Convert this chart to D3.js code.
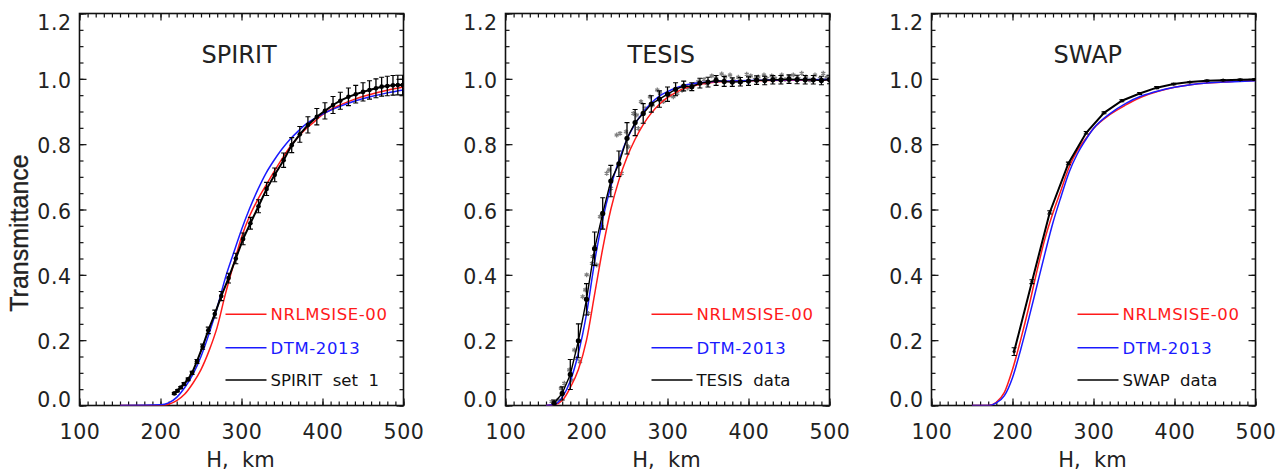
<!DOCTYPE html>
<html><head><meta charset="utf-8">
<script src="https://cdn.jsdelivr.net/npm/d3@7"></script>
<style>
body{margin:0;background:#fff;}
svg{display:block;}
text{font-family:"DejaVu Sans",sans-serif;fill:#222;}
</style></head><body>
<svg id="c" width="1286" height="473"></svg>
<script>
// ---------- data ----------
const panelTitles = ["SPIRIT", "TESIS", "SWAP"];
const dataLabels = ["SPIRIT  set  1", "TESIS  data", "SWAP  data"];
const modelNames = ["NRLMSISE-00", "DTM-2013"];
const xTicks = [100, 200, 300, 400, 500];
const yTicks = [0.0, 0.2, 0.4, 0.6, 0.8, 1.0, 1.2];
const xTitle = "H,  km";
const yTitle = "Transmittance";

// SPIRIT panel
const H_mod1 = [150,200,210,220,230,240,250,260,270,280,290,300,310,320,330,340,350,360,370,380,390,400,420,440,460,480,500];
const NRL1   = [0,0,0.004,0.015,0.035,0.068,0.11,0.168,0.24,0.34,0.43,0.515,0.58,0.63,0.673,0.715,0.755,0.792,0.822,0.848,0.869,0.89,0.918,0.938,0.953,0.965,0.975];
const DTM1   = [0,0.002,0.008,0.025,0.055,0.095,0.15,0.22,0.3,0.39,0.465,0.538,0.603,0.66,0.71,0.75,0.785,0.815,0.84,0.862,0.878,0.892,0.914,0.932,0.946,0.957,0.966];
const H_spirit = [217,221,225,229,234,239,245,252,259,267,275,284,293,302,311,321,331,341,352,362,372,382,393,403,413,422,432,441,450,458,466,473,480,487,493,499];
const T_spirit = [0.037,0.045,0.055,0.066,0.08,0.1,0.135,0.18,0.23,0.28,0.335,0.39,0.45,0.51,0.558,0.61,0.663,0.706,0.751,0.797,0.83,0.859,0.884,0.902,0.92,0.933,0.945,0.953,0.96,0.966,0.971,0.976,0.978,0.98,0.981,0.981];
const E_spirit = [0.003,0.003,0.003,0.004,0.004,0.005,0.006,0.008,0.01,0.012,0.014,0.015,0.016,0.018,0.018,0.02,0.02,0.021,0.022,0.023,0.024,0.025,0.025,0.025,0.026,0.026,0.027,0.027,0.028,0.028,0.029,0.029,0.03,0.03,0.03,0.03];

// TESIS panel
const H_mod2 = [150,160,170,180,190,200,210,220,230,240,250,260,270,280,290,300,310,320,340,360,400,450,500];
const NRL2   = [0,0.002,0.015,0.055,0.11,0.2,0.34,0.48,0.6,0.69,0.76,0.815,0.86,0.895,0.922,0.943,0.958,0.97,0.983,0.99,0.994,0.996,0.997];
const DTM2   = [0,0.003,0.025,0.075,0.16,0.28,0.44,0.57,0.67,0.75,0.815,0.862,0.898,0.926,0.947,0.961,0.972,0.98,0.988,0.992,0.995,0.997,0.998];
const H_tesis = [160,170,180,190,200,210,220,230,240,250,260,270,280,290,300,310,320,330,340,350,360,370,380,390,400,410,420,430,440,450,460,470,480,490,500];
const T_tesis = [0.007,0.037,0.095,0.198,0.325,0.48,0.588,0.687,0.74,0.818,0.866,0.894,0.923,0.938,0.953,0.968,0.978,0.976,0.987,0.99,0.995,0.992,0.99,0.991,0.993,0.996,0.995,0.997,0.997,0.999,0.998,0.997,0.997,0.995,0.998];
const E_tesis = [0.01,0.02,0.046,0.052,0.048,0.051,0.048,0.048,0.039,0.048,0.04,0.03,0.025,0.025,0.022,0.02,0.015,0.012,0.015,0.015,0.015,0.015,0.013,0.013,0.013,0.013,0.013,0.013,0.013,0.013,0.013,0.013,0.013,0.013,0.013];
const H_tesisRaw = [157,165,168.5,172.6,178.8,181.7,185,187.9,192,195.3,198.5,200.2,202.3,206.8,207.6,210.5,212.6,216.7,218.7,224.9,227.8,230.2,237.3,241.4,243.4,248.8,251.6,257.8,262,264,267.3,272.2,278.4,281.7,287.4,290.7,294.8,303.1,307.2,312,318,325,333.9,338,345.1,348.4,354.6,359.9,366.9,371,377.2,381.3,387.4,389.5,397.8,402.7,408,412.1,419.1,422.5,428.6,432.7,441,445.1,450,455.3,461.5,465.7,471,476,482.1,488.3,492.3,496.5];
const T_tesisRaw = [0.012,0.017,0.053,0.068,0.109,0.078,0.17,0.144,0.134,0.333,0.354,0.4,0.282,0.435,0.456,0.486,0.43,0.578,0.547,0.711,0.721,0.665,0.828,0.833,0.711,0.838,0.792,0.894,0.889,0.848,0.93,0.91,0.945,0.92,0.966,0.956,0.93,0.95,0.945,0.955,0.965,0.972,0.984,0.991,0.998,0.986,1.009,1.002,1.015,1.006,1.012,0.994,1.005,0.989,1.014,1.009,0.998,1.006,1.012,1.001,1.009,1.002,1.012,0.998,1.006,1.012,1.001,1.017,1.006,0.996,1.012,1.001,1.017,1.005];

// SWAP panel
const H_mod3 = [150,170,180,190,200,210,220,230,240,250,260,270,280,290,300,320,340,360,380,400,420,440,460,480,500];
const NRL3   = [0,0,0.01,0.04,0.11,0.2,0.3,0.41,0.51,0.59,0.66,0.73,0.78,0.815,0.848,0.89,0.92,0.945,0.962,0.974,0.982,0.987,0.99,0.993,0.995];
const DTM3   = [0,0,0.008,0.03,0.085,0.17,0.265,0.365,0.465,0.56,0.64,0.715,0.77,0.812,0.848,0.893,0.925,0.948,0.963,0.974,0.982,0.987,0.99,0.992,0.994];
const H_swap = [202,224,246,269,291,313,335,357,378,399,419,440,460,481,499];
const T_swap = [0.165,0.379,0.591,0.741,0.835,0.896,0.933,0.955,0.973,0.984,0.99,0.994,0.996,0.997,0.998];
const E_swap = [0.012,0.006,0.005,0.004,0.004,0.003,0.003,0.003,0.003,0.002,0.002,0.002,0.002,0.002,0.002];

// ---------- drawing ----------
const panels = [
  {x0:79.5, Hm:H_mod1, nrl:NRL1, dtm:DTM1, H:H_spirit, T:T_spirit, E:E_spirit, dot:2.3, lw:2},
  {x0:505.5, Hm:H_mod2, nrl:NRL2, dtm:DTM2, H:H_tesis, T:T_tesis, E:E_tesis, dot:2.6, lw:1.4, rawH:H_tesisRaw, rawT:T_tesisRaw},
  {x0:931.5, Hm:H_mod3, nrl:NRL3, dtm:DTM3, H:H_swap, T:T_swap, E:E_swap, dot:1.6, lw:2}
];
const W = 324, TOP = 13.5, BOT = 405.5;
const svg = d3.select("#c");
const RED = "#ff1a1a", BLUE = "#1a1aff";

panels.forEach((p, i) => {
  const x = d3.scaleLinear().domain([100, 500]).range([p.x0, p.x0 + W]);
  const y = d3.scaleLinear().domain([0, 1.2]).range([BOT, TOP]);
  const g = svg.append("g");
  const clipId = "clip" + i;
  svg.append("clipPath").attr("id", clipId).append("rect")
    .attr("x", p.x0).attr("y", TOP).attr("width", W).attr("height", BOT - TOP);

  const minorX = d3.range(100, 501, 10);
  const minorY = d3.range(0, 1.2001, 0.05);

  // bottom axis
  const gb = g.append("g").attr("transform", `translate(0,${BOT})`);
  gb.append("g").call(d3.axisBottom(x).tickValues(minorX).tickSize(-4).tickFormat(""));
  gb.append("g").call(d3.axisBottom(x).tickValues(xTicks).tickSize(-7).tickPadding(18.5).tickFormat(d3.format("d")));
  // top axis
  const gt = g.append("g").attr("transform", `translate(0,${TOP})`);
  gt.append("g").call(d3.axisTop(x).tickValues(minorX).tickSize(-4).tickFormat(""));
  gt.append("g").call(d3.axisTop(x).tickValues(xTicks).tickSize(-7).tickFormat(""));
  // left axis
  const gl = g.append("g").attr("transform", `translate(${p.x0},0)`);
  gl.append("g").call(d3.axisLeft(y).tickValues(minorY).tickSize(-4).tickFormat(""));
  const yl = gl.append("g").call(d3.axisLeft(y).tickValues(yTicks).tickSize(-7).tickPadding(7.8).tickFormat(d3.format(".1f")));
  yl.selectAll("text").attr("dy", d => d >= 1.19 ? "15.5px" : (d < 0.01 ? "0.5px" : "8.6px"));
  // right axis
  const gr = g.append("g").attr("transform", `translate(${p.x0 + W},0)`);
  gr.append("g").call(d3.axisRight(y).tickValues(minorY).tickSize(-4).tickFormat(""));
  gr.append("g").call(d3.axisRight(y).tickValues(yTicks).tickSize(-7).tickFormat(""));

  g.selectAll(".domain").remove();
  g.selectAll(".tick line").attr("stroke", "#111").attr("stroke-width", 1.2);
  g.selectAll(".tick text").attr("font-size", 20.5).attr("fill", "#222")
    .attr("font-family", "'DejaVu Sans', sans-serif").attr("letter-spacing", "0.6px");

  g.append("rect").attr("x", p.x0).attr("y", TOP).attr("width", W).attr("height", BOT - TOP)
    .attr("fill", "none").attr("stroke", "#111").attr("stroke-width", 1.6);

  // title
  g.append("text").attr("x", p.x0 + 122).attr("y", 62.7).attr("font-size", 24).text(panelTitles[i]);
  // x title
  g.append("text").attr("x", p.x0 + W / 2 - 1).attr("y", 466.7).attr("text-anchor", "middle")
    .attr("font-size", 21).style("white-space", "pre").text(xTitle);

  const dg = g.append("g").attr("clip-path", `url(#${clipId})`);
  const line = d3.line().x(d => x(d[0])).y(d => y(d[1]));
  const smooth = d3.line().x(d => x(d[0])).y(d => y(d[1])).curve(d3.curveMonotoneX);

  // gray raw measurements (TESIS)
  if (p.rawH) {
    dg.selectAll(".raw").data(p.rawH.map((h, k) => [h, p.rawT[k]])).enter().append("path")
      .attr("transform", d => `translate(${x(d[0])},${y(d[1])})`)
      .attr("d", d3.symbol(d3.symbolAsterisk).size(16))
      .attr("fill", "none").attr("stroke", "#808080").attr("stroke-width", 1.3);
  }

  // models
  dg.append("path").datum(p.Hm.map((h, k) => [h, p.nrl[k]]))
    .attr("d", smooth).attr("fill", "none").attr("stroke", RED).attr("stroke-width", 1.5);
  dg.append("path").datum(p.Hm.map((h, k) => [h, p.dtm[k]]))
    .attr("d", smooth).attr("fill", "none").attr("stroke", BLUE).attr("stroke-width", 1.5);

  // observed data
  const obs = p.H.map((h, k) => [h, p.T[k], p.E[k]]);
  dg.append("path").datum(obs).attr("d", line).attr("fill", "none")
    .attr("stroke", "#000").attr("stroke-width", p.lw);
  const eb = dg.selectAll(".eb").data(obs).enter().append("g");
  eb.append("line").attr("x1", d => x(d[0])).attr("x2", d => x(d[0]))
    .attr("y1", d => y(d[1] - d[2])).attr("y2", d => y(d[1] + d[2]))
    .attr("stroke", "#000").attr("stroke-width", 1.3);
  eb.append("line").attr("x1", d => x(d[0]) - 2.5).attr("x2", d => x(d[0]) + 2.5)
    .attr("y1", d => y(d[1] - d[2])).attr("y2", d => y(d[1] - d[2]))
    .attr("stroke", "#000").attr("stroke-width", 1.1);
  eb.append("line").attr("x1", d => x(d[0]) - 2.5).attr("x2", d => x(d[0]) + 2.5)
    .attr("y1", d => y(d[1] + d[2])).attr("y2", d => y(d[1] + d[2]))
    .attr("stroke", "#000").attr("stroke-width", 1.1);
  eb.append("circle").attr("cx", d => x(d[0])).attr("cy", d => y(d[1])).attr("r", p.dot).attr("fill", "#000");

  // legend
  const legY = [314.3, 347.7, 380];
  const legC = [RED, BLUE, "#000"];
  const legT = [modelNames[0], modelNames[1], dataLabels[i]];
  legT.forEach((t, k) => {
    g.append("line").attr("x1", p.x0 + 146).attr("x2", p.x0 + 187)
      .attr("y1", legY[k]).attr("y2", legY[k]).attr("stroke", legC[k]).attr("stroke-width", 1.5);
    g.append("text").attr("x", p.x0 + 191).attr("y", legY[k] + 5.8).attr("font-size", 16.5)
      .attr("letter-spacing", k < 2 ? "0.6px" : "0px")
      .style("fill", legC[k] === "#000" ? "#111" : legC[k]).style("white-space", "pre").text(t);
  });
});

// y title
svg.append("text").attr("transform", "translate(28,233) rotate(-90)").attr("text-anchor", "middle")
  .style("font-family", "'Liberation Sans', Arial, sans-serif")
  .attr("font-size", 25).style("fill", "#222").attr("stroke", "#222").attr("stroke-width", 0.3).text(yTitle);
</script>
</body></html>
